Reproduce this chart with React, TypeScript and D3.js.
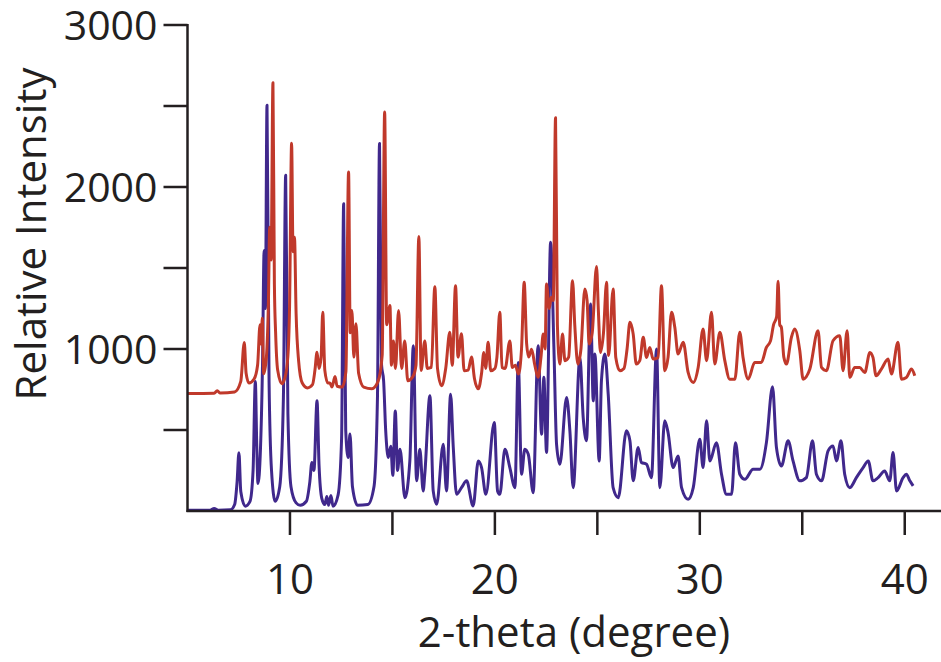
import React from "react";
import * as d3 from "d3";

const yTickValues = [500, 1000, 1500, 2000, 2500, 3000];
const yTickLabels = ["", "1000", "", "2000", "", "3000"];
const xTickValues = [10, 15, 20, 25, 30, 35, 40];
const xTickLabels = ["10", "", "20", "", "30", "", "40"];

const blueTheta = [5.0,6.1,6.3,6.5,7.1,7.3,7.42,7.51,7.6,7.82,8.05,8.2,8.31,8.38,8.44,8.56,8.66,8.74,8.8,8.88,8.98,9.1,9.28,9.5,9.68,9.79,9.9,10.05,10.3,10.5,10.8,10.97,11.07,11.17,11.32,11.42,11.55,11.7,11.8,11.88,12.0,12.1,12.35,12.52,12.62,12.72,12.84,12.93,13.05,13.3,13.8,14.1,14.27,14.37,14.47,14.57,14.67,14.8,14.92,15.02,15.14,15.25,15.37,15.61,15.85,16.02,16.18,16.34,16.5,16.58,16.83,16.99,17.16,17.48,17.64,17.84,17.97,18.13,18.37,18.62,18.94,19.19,19.35,19.56,19.97,20.13,20.24,20.49,20.73,20.98,21.14,21.3,21.46,21.63,21.87,22.11,22.28,22.39,22.52,22.72,22.88,23.01,23.17,23.5,23.66,23.82,24.15,24.31,24.47,24.67,24.8,24.88,25.09,25.2,25.37,25.53,25.77,26.02,26.42,26.59,26.75,26.99,27.15,27.4,27.64,27.89,28.05,28.29,28.45,28.7,28.94,29.11,29.43,29.68,30.0,30.16,30.33,30.49,30.81,31.06,31.3,31.55,31.74,31.95,32.2,32.6,32.93,33.25,33.55,33.74,33.98,34.31,34.55,34.88,35.2,35.5,35.69,35.94,36.26,36.5,36.67,36.89,37.07,37.32,37.64,37.97,38.22,38.45,38.7,39.02,39.27,39.43,39.6,39.92,40.08,40.25,40.41];
const blueIntensity = [5,5,15,5,8,40,180,360,120,30,60,250,800,400,170,380,900,1608,1250,2505,800,250,60,150,700,2072,600,150,50,35,60,180,300,250,680,280,80,40,90,35,95,30,100,450,1897,500,330,476,150,35,40,150,700,2268,900,804,500,330,400,220,618,250,381,82,309,1020,186,381,124,227,711,124,41,412,124,721,392,103,144,186,31,309,268,103,546,124,103,381,268,144,917,227,381,350,113,1020,474,825,361,1659,1010,412,289,701,495,144,948,577,433,1278,680,969,309,804,969,721,144,82,495,433,186,392,300,289,206,1000,144,557,485,268,340,144,72,144,443,268,557,309,422,227,103,103,422,227,196,258,258,422,767,392,278,433,309,186,206,433,227,186,371,402,309,433,227,144,206,268,309,186,206,247,186,361,124,206,227,186,155];

const redTheta = [5.0,6.3,6.45,6.6,7.3,7.6,7.77,7.86,8.0,8.25,8.42,8.54,8.6,8.65,8.72,8.85,8.95,9.01,9.08,9.17,9.24,9.3,9.4,9.61,9.8,9.92,9.98,10.08,10.15,10.22,10.3,10.42,10.6,10.85,11.1,11.22,11.32,11.42,11.52,11.6,11.7,11.85,11.95,12.05,12.2,12.3,12.55,12.73,12.86,12.94,13.02,13.12,13.22,13.35,13.6,14.0,14.3,14.5,14.62,14.72,14.88,14.95,15.05,15.15,15.3,15.45,15.6,15.75,16.0,16.15,16.29,16.4,16.58,16.7,16.9,17.07,17.2,17.4,17.6,17.8,17.92,18.08,18.2,18.37,18.5,18.7,18.86,19.0,19.19,19.35,19.46,19.55,19.67,19.8,20.0,20.1,20.24,20.35,20.5,20.73,20.85,21.0,21.15,21.3,21.43,21.55,21.65,21.79,21.95,22.11,22.25,22.36,22.45,22.52,22.65,22.75,22.85,22.96,23.05,23.17,23.3,23.42,23.6,23.79,23.9,24.05,24.2,24.39,24.5,24.6,24.75,24.96,25.05,25.15,25.3,25.45,25.55,25.77,25.9,26.1,26.3,26.45,26.59,26.75,26.9,27.07,27.24,27.4,27.56,27.72,27.97,28.13,28.29,28.45,28.62,28.78,28.94,29.19,29.43,29.68,29.92,30.16,30.33,30.57,30.73,30.98,31.22,31.46,31.71,31.95,32.11,32.36,32.68,33.0,33.25,33.45,33.6,33.75,33.82,33.9,33.98,34.1,34.23,34.47,34.63,34.88,35.04,35.37,35.77,35.94,36.18,36.5,36.83,36.99,37.19,37.32,37.56,37.8,38.05,38.3,38.45,38.6,38.86,39.19,39.35,39.67,39.84,40.08,40.33,40.49];
const redIntensity = [725,727,742,728,735,800,1040,850,790,815,900,1150,1030,1190,847,950,1300,1752,1550,2643,1400,1100,870,785,847,1000,1257,2270,1600,1690,1218,930,790,760,780,870,980,880,950,1227,870,790,790,765,830,770,765,860,2092,1100,1237,950,1156,850,765,755,800,960,2463,1150,1268,900,1050,880,1237,880,1050,804,830,900,1694,867,1050,880,886,1385,880,773,880,1103,900,1391,950,1094,866,870,950,820,754,850,979,880,1041,866,880,950,1227,886,880,1050,886,900,845,1000,1412,1031,950,999,900,825,950,1092,1000,1402,1250,1320,1299,2428,1150,907,1092,928,950,1422,1144,907,1000,1371,1299,1031,1100,1509,1237,979,1100,1412,960,1371,948,866,880,1000,1165,1092,907,928,1072,948,1010,938,948,1391,866,948,1227,1134,969,1041,855,793,886,1123,928,1227,907,1103,928,814,814,1103,948,814,917,917,1010,1050,1150,1200,1418,1150,1134,950,907,1072,1123,989,814,876,1113,886,866,1051,1082,866,1113,825,886,886,855,979,948,835,876,938,845,1041,814,824,876,835];

const W = 941;
const H = 662;
const axisColor = "#231f20";
const blueColor = "#40288c";
const redColor = "#c0392b";
const font = "'Open Sans', 'Noto Sans', sans-serif";

export default function App() {
  const x = d3.scaleLinear().domain([5, 41.77]).range([187.5, 941]);
  const y = d3.scaleLinear().domain([0, 3000]).range([511, 25]);
  const line = d3
    .line<[number, number]>()
    .x((d) => x(d[0]))
    .y((d) => y(d[1]))
    .curve(d3.curveMonotoneX);
  const blue = blueTheta.map((t, i) => [t, blueIntensity[i]] as [number, number]);
  const red = redTheta.map((t, i) => [t, redIntensity[i]] as [number, number]);
  const x0 = x(5);
  const yBase = y(0);

  return (
    <svg
      width={W}
      height={H}
      style={{ position: "absolute", left: 0, top: 0, background: "#fff" }}
      fontFamily={font}
    >
      <rect x={0} y={0} width={W} height={H} fill="#fff" />
      <path d={line(blue) || ""} fill="none" stroke={blueColor} strokeWidth={3} strokeLinejoin="round" />
      <path d={line(red) || ""} fill="none" stroke={redColor} strokeWidth={3} strokeLinejoin="round" />
      <line x1={x0} x2={x0} y1={y(3000) - 1} y2={yBase + 1} stroke={axisColor} strokeWidth={2.5} />
      <line x1={x0 - 1} x2={W} y1={yBase} y2={yBase} stroke={axisColor} strokeWidth={2.5} />
      {yTickValues.map((v, i) => (
        <g key={"y" + v}>
          <line x1={x0 - 24} x2={x0} y1={y(v)} y2={y(v)} stroke={axisColor} strokeWidth={2.5} />
          {yTickLabels[i] && (
            <text x={x0 - 30} y={y(v) + 15} textAnchor="end" fontSize={41} fill={axisColor}>
              {yTickLabels[i]}
            </text>
          )}
        </g>
      ))}
      {xTickValues.map((v, i) => (
        <g key={"x" + v}>
          <line x1={x(v)} x2={x(v)} y1={yBase} y2={yBase + 24} stroke={axisColor} strokeWidth={2.5} />
          {xTickLabels[i] && (
            <text x={x(v)} y={594} textAnchor="middle" fontSize={42} fill={axisColor}>
              {xTickLabels[i]}
            </text>
          )}
        </g>
      ))}
      <text x={574} y={647} textAnchor="middle" fontSize={42} fill={axisColor}>
        2-theta (degree)
      </text>
      <text
        transform={`translate(46, 234) rotate(-90)`}
        textAnchor="middle"
        fontSize={42}
        fill={axisColor}
      >
        Relative Intensity
      </text>
    </svg>
  );
}
